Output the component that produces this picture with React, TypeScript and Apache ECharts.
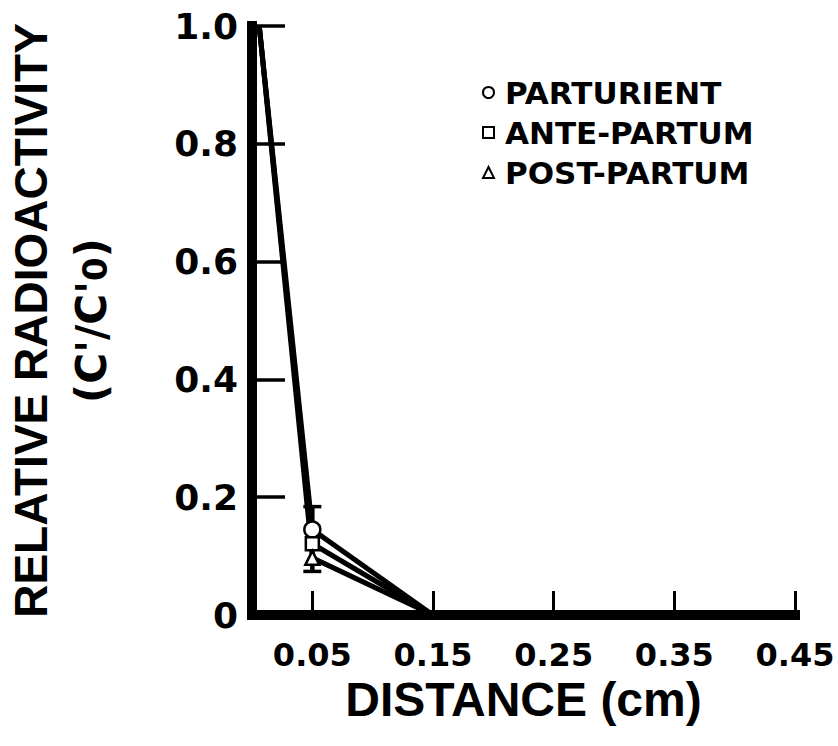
import React, { useEffect, useRef } from 'react';
import * as echarts from 'echarts';

// Groups and their marker shapes
const seriesNames = ['PARTURIENT', 'ANTE-PARTUM', 'POST-PARTUM'];
const seriesSymbols = ['circle', 'rect', 'triangle'];
const symbolSizes = [16, 13, 14];

// Distance from the surface (cm)
const distances = [0.006, 0.05, 0.15];

// Relative radioactivity C'/C'0 per group
const parturient = [1.0, 0.145, 0];
const antePartum = [1.0, 0.121, 0];
const postPartum = [1.0, 0.097, 0];

// Spread of the three groups at 0.05 cm
const errorX = [0.05];
const errorLow = [0.074];
const errorHigh = [0.184];

// Axis ticks
const xTicks = [0.05, 0.15, 0.25, 0.35, 0.45];
const yTicks = [0, 0.2, 0.4, 0.6, 0.8, 1.0];

const groupValues = [parturient, antePartum, postPartum];

const tickFont = {
  fontFamily: 'DejaVu Sans',
  fontWeight: 'bold' as const,
  color: '#000',
};

function buildOption() {
  const lineSeries = seriesNames.map((name, i) => ({
    name,
    type: 'line',
    data: distances.map((d, j) => [d, groupValues[i][j]]),
    symbol: 'none',
    lineStyle: { color: '#000', width: 5 },
    itemStyle: { color: '#000' },
    z: 2,
    silent: true,
  }));

  // markers only at the middle sampling depth
  const markerSeries = seriesNames.map((name, i) => ({
    name,
    type: 'scatter',
    data: [[distances[1], groupValues[i][1]]],
    symbol: seriesSymbols[i],
    symbolSize: symbolSizes[i],
    itemStyle: { color: '#fff', borderColor: '#000', borderWidth: 2.5, opacity: 1 },
    z: 6,
    silent: true,
  }));

  const errorSeries = {
    type: 'custom',
    z: 4,
    silent: true,
    data: errorX.map((x, i) => [x, errorLow[i], errorHigh[i]]),
    encode: { x: 0, y: [1, 2] },
    renderItem: (_params: any, api: any) => {
      const lo = api.coord([api.value(0), api.value(1)]);
      const hi = api.coord([api.value(0), api.value(2)]);
      const hw = 9;
      const stroke = { stroke: '#000', lineWidth: 3.5 };
      return {
        type: 'group',
        children: [
          { type: 'line', shape: { x1: lo[0], y1: lo[1], x2: hi[0], y2: hi[1] }, style: { stroke: '#000', lineWidth: 4.5 } },
          { type: 'line', shape: { x1: lo[0] - hw, y1: lo[1], x2: lo[0] + hw, y2: lo[1] }, style: stroke },
          { type: 'line', shape: { x1: hi[0] - hw, y1: hi[1], x2: hi[0] + hw, y2: hi[1] }, style: stroke },
        ],
      };
    },
  };

  return {
    animation: false,
    backgroundColor: '#fff',
    grid: { left: 251, right: 43, top: 26, bottom: 131, containLabel: false },
    legend: {
      orient: 'vertical',
      left: 477,
      top: 72,
      itemWidth: 11,
      itemHeight: 11,
      itemGap: 9,
      selectedMode: false,
      data: seriesNames.map((n, i) => ({ name: n, icon: seriesSymbols[i] })),
      itemStyle: { color: '#fff', borderColor: '#000', borderWidth: 2 },
      textStyle: { ...tickFont, fontSize: 31, padding: [0, 0, 0, 6] },
    },
    xAxis: {
      type: 'value',
      min: 0,
      max: 0.45,
      splitLine: { show: false },
      axisLine: { show: true, onZero: false, lineStyle: { color: '#000', width: 10, cap: 'square' } },
      axisTick: { show: true, inside: true, length: 24, customValues: xTicks, lineStyle: { color: '#000', width: 3 } },
      axisLabel: {
        ...tickFont,
        fontSize: 32,
        margin: 24,
        customValues: xTicks,
        formatter: (v: number) => v.toFixed(2),
      },
      name: 'DISTANCE (cm)',
      nameLocation: 'middle',
      nameGap: 60,
      nameMoveOverlap: false,
      nameTextStyle: { fontFamily: 'Liberation Sans', fontWeight: 'bold', fontSize: 48, color: '#000' },
    },
    yAxis: {
      type: 'value',
      min: 0,
      max: 1,
      interval: 0.2,
      splitLine: { show: false },
      axisLine: { show: true, onZero: false, lineStyle: { color: '#000', width: 10, cap: 'square' } },
      axisTick: { show: true, inside: true, length: 33, customValues: yTicks, lineStyle: { color: '#000', width: 3.5 } },
      axisLabel: {
        ...tickFont,
        fontSize: 36,
        margin: 14,
        customValues: yTicks,
        formatter: (v: number) => (v === 0 ? '0' : v.toFixed(1)),
      },
      name: "{a|RELATIVE RADIOACTIVITY}\n{b|(C'/C'}{s|0}{b|)}",
      nameLocation: 'middle',
      nameRotate: 90,
      nameGap: 131,
      nameTextStyle: {
        rich: {
          a: { fontFamily: 'Liberation Sans', fontWeight: 'bold', fontSize: 46, lineHeight: 60, color: '#000' },
          b: { fontFamily: 'DejaVu Sans', fontWeight: 'bold', fontSize: 42, lineHeight: 60, color: '#000' },
          s: { fontFamily: 'DejaVu Sans', fontWeight: 'bold', fontSize: 34, lineHeight: 60, color: '#000', padding: [8, 0, 0, 0] },
        },
      },
    },
    series: [...lineSeries, errorSeries, ...markerSeries],
  };
}

export default function App() {
  const ref = useRef<HTMLDivElement>(null);
  useEffect(() => {
    if (!ref.current) return;
    const chart = echarts.init(ref.current, null, { renderer: 'svg' });
    chart.setOption(buildOption() as any);
    return () => chart.dispose();
  }, []);
  return (
    <div
      ref={ref}
      style={{ position: 'absolute', left: 0, top: 0, width: 838, height: 746, background: '#fff' }}
    />
  );
}
